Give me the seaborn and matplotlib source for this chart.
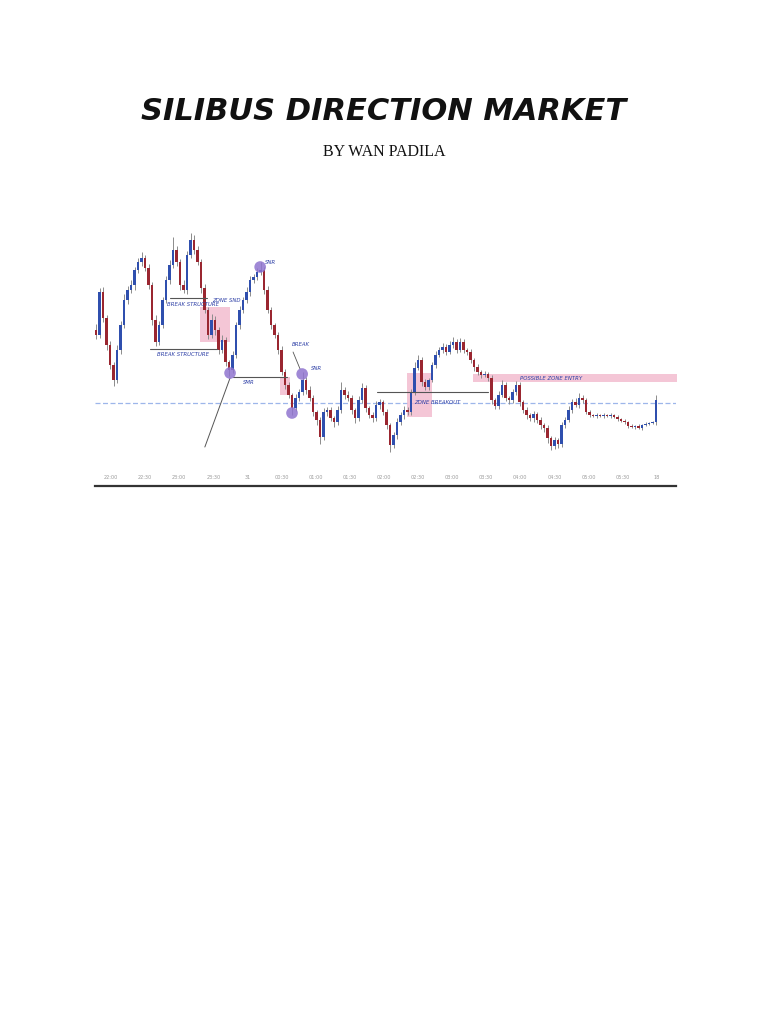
import numpy as np
import pandas as pd
import matplotlib
matplotlib.use("Agg")
import matplotlib.pyplot as plt
import seaborn as sns

# ---------------- data ----------------
closes = [
    150, 193, 167, 140, 120, 105, 135, 160, 185, 195, 200, 215, 223, 227, 217, 200, 165, 143, 160, 185,
    205, 220, 235, 223, 200, 195, 230, 245, 235, 223, 197, 175, 150, 165, 155, 135, 145, 123, 115, 130,
    160, 175, 185, 193, 205, 208, 213, 215, 195, 175, 160, 150, 135, 113, 100, 90, 77, 87, 93, 105,
    95, 87, 73, 65, 48, 73, 75, 67, 63, 75, 95, 90, 87, 75, 67, 85, 97, 77, 70, 67,
    80, 83, 73, 60, 40, 50, 63, 70, 75, 73, 93, 117, 125, 103, 98, 105, 120, 130, 135, 138,
    133, 140, 143, 135, 143, 135, 133, 125, 118, 113, 110, 111, 107, 85, 79, 90, 100, 87, 85, 93,
    100, 83, 75, 70, 67, 71, 65, 60, 57, 47, 39, 45, 41, 60, 65, 75, 83, 80, 87, 85,
    73, 70, 69, 70, 69, 70, 69, 70, 68, 66, 64, 63, 59, 58, 59, 57, 60, 61, 62, 63,
    85,
]
first_open = 155

hi_wick = [
    6, 4, 5, 3, 4, 3, 5, 4, 6, 4, 5, 3, 4, 6, 3, 4, 3, 5, 4, 3,
    4, 5, 13, 4, 3, 5, 4, 7, 5, 4, 3, 4, 3, 6, 4, 3, 5, 3, 2, 4,
    3, 4, 3, 5, 4, 3, 4, 8, 3, 4, 3, 2, 3, 4, 3, 3, 2, 4, 3, 8,
    3, 4, 3, 2, 3, 4, 3, 3, 2, 4, 8, 3, 4, 3, 2, 4, 5, 3, 2, 3,
    4, 3, 2, 3, 2, 3, 4, 3, 4, 3, 3, 6, 5, 3, 3, 2, 3, 4, 3, 4,
    3, 4, 5, 3, 4, 3, 2, 3, 2, 3, 2, 3, 2, 3, 2, 4, 5, 3, 2, 3,
    4, 3, 2, 3, 2, 3, 2, 3, 2, 3, 2, 3, 2, 3, 3, 4, 3, 4, 5, 3,
    2, 2, 1, 2, 1, 2, 1, 2, 1, 2, 1, 2, 1, 2, 1, 2, 1, 2, 1, 1,
    5,
]
lo_wick = [
    4, 3, 4, 5, 4, 6, 3, 4, 3, 4, 3, 5, 3, 4, 3, 4, 5, 4, 3, 3,
    3, 4, 3, 4, 5, 3, 4, 3, 4, 3, 5, 3, 4, 3, 5, 4, 3, 4, 6, 3,
    3, 4, 3, 3, 4, 3, 3, 3, 4, 3, 4, 3, 4, 3, 4, 3, 7, 3, 3, 3,
    4, 3, 4, 5, 7, 3, 4, 3, 5, 3, 3, 4, 3, 4, 5, 3, 3, 4, 3, 4,
    3, 4, 3, 4, 7, 3, 4, 3, 4, 3, 3, 3, 2, 4, 3, 3, 2, 3, 2, 3,
    3, 2, 3, 3, 2, 3, 3, 3, 4, 3, 3, 2, 3, 4, 3, 3, 2, 3, 4, 3,
    3, 4, 3, 4, 3, 4, 3, 4, 4, 5, 4, 3, 4, 3, 3, 2, 3, 2, 3, 3,
    2, 2, 1, 2, 1, 2, 1, 2, 1, 2, 1, 2, 2, 1, 2, 1, 2, 1, 1, 1,
    3,
]

tick_labels = ["22:00", "22:30", "23:00", "23:30", "31", "00:30", "01:00", "01:30", "02:00",
               "02:30", "03:00", "03:30", "04:00", "04:30", "05:00", "05:30", "18"]

# key levels / annotations (candle index, price)
smr_circles_x = [38.3, 46.9, 56.0, 58.9]
smr_circles_y = [112, 218, 72, 111]

# ---------------- build frame ----------------
c = np.array(closes, dtype=float)
o = np.concatenate([[first_open], c[:-1]])
hi = np.maximum(o, c) + np.array(hi_wick)
lo = np.minimum(o, c) - np.array(lo_wick)
idx = np.arange(len(c))
df = pd.DataFrame({"i": idx, "open": o, "close": c, "high": hi, "low": lo})
df["up"] = df["close"] >= df["open"]

sns.set_theme(style="white")
plt.rcParams["font.family"] = ["DejaVu Sans"]

fig = plt.figure(figsize=(7.68, 10.24), dpi=100)
fig.patch.set_facecolor("white")

ax = fig.add_axes([95 / 768, (1024 - 486) / 1024, 581 / 768, (486 - 225) / 1024])
ax.set_facecolor("white")

up_col = "#2f4fae"
dn_col = "#9a2630"

# wicks
ax.vlines(df["i"], df["low"], df["high"], color="#8c8c8c", lw=0.7, zorder=2)
# bodies
body = df["close"] - df["open"]
body = np.where(np.abs(body) < 1.0, np.where(body >= 0, 1.0, -1.0), body)
ax.bar(df["i"], body, bottom=df["open"], width=0.62,
       color=np.where(df["up"], up_col, dn_col), linewidth=0, zorder=3)

# dashed reference line
ax.axhline(82, color="#9db6ea", lw=0.9, ls=(0, (4, 2)), zorder=1)

# pink zones
pink = "#f2b8cc"
ax.fill_between([29.7, 38.3], 143, 178, color=pink, alpha=0.8, lw=0, zorder=1)
ax.fill_between([52.6, 55.4], 90, 108, color=pink, alpha=0.8, lw=0, zorder=1)
ax.fill_between([88.9, 96.0], 68, 112, color=pink, alpha=0.8, lw=0, zorder=1)
ax.fill_between([107.7, 166.0], 103, 111, color=pink, alpha=0.8, lw=0, zorder=1)

# structure lines
line_col = "#555555"
ax.plot([21.1, 31.7], [187, 187], color=line_col, lw=0.8, zorder=4)
ax.plot([15.4, 34.6], [136, 136], color=line_col, lw=0.8, zorder=4)
ax.plot([39.1, 54.6], [108, 108], color=line_col, lw=0.8, zorder=4)
ax.plot([38.3, 31.1], [107, 38], color=line_col, lw=0.7, zorder=4)
ax.plot([56.3, 58.3], [133, 116], color=line_col, lw=0.6, zorder=4)
ax.plot([80.3, 112.0], [93, 93], color=line_col, lw=0.8, zorder=4)

# circles
sns.scatterplot(x=smr_circles_x, y=smr_circles_y, s=70, color="#8f74cf", alpha=0.85,
                edgecolor="none", ax=ax, zorder=5, legend=False)

# labels
ann_col = "#2d3fa6"
kw = dict(color=ann_col, fontsize=3.9, style="italic", zorder=6)
ax.text(20.3, 181, "BREAK STRUCTURE", va="center", ha="left", **kw)
ax.text(33.1, 184, "ZONE SND", va="center", ha="left", **kw)
ax.text(17.4, 130, "BREAK STRUCTURE", va="center", ha="left", **kw)
ax.text(42.0, 103, "SMR", va="center", ha="left", **kw)
ax.text(48.3, 223, "SNR", va="center", ha="left", **kw)
ax.text(56.0, 140, "BREAK", va="center", ha="left", **kw)
ax.text(61.4, 117, "SNR", va="center", ha="left", **kw)
ax.text(90.9, 82, "ZONE BREAKOUT", va="center", ha="left", **kw)
ax.text(121.0, 107, "POSSIBLE ZONE ENTRY", va="center", ha="left", **kw)

# axes
ax.set_xlim(-0.286, 165.71)
ax.set_ylim(-1, 260)
ticks = 4.29 + 9.743 * np.arange(len(tick_labels))
ax.set_xticks(ticks)
ax.set_xticklabels(tick_labels, fontsize=3.6, color="#9a9a9a")
ax.tick_params(axis="x", length=0, pad=-8)
ax.set_yticks([])
for s in ["top", "left", "right"]:
    ax.spines[s].set_visible(False)
ax.spines["bottom"].set_color("#333333")
ax.spines["bottom"].set_linewidth(1.6)
ax.grid(False)

# page title
fig.text(0.5, 1 - 111 / 1024, "SILIBUS DIRECTION MARKET", ha="center", va="center",
         fontsize=22, fontstyle="italic", fontweight="bold", family="DejaVu Sans", color="#111111")
fig.text(0.5, 1 - 152 / 1024, "BY WAN PADILA", ha="center", va="center",
         fontsize=11.5, family="Liberation Serif", color="#111111")

fig.savefig("out.png", dpi=100, facecolor="white")
